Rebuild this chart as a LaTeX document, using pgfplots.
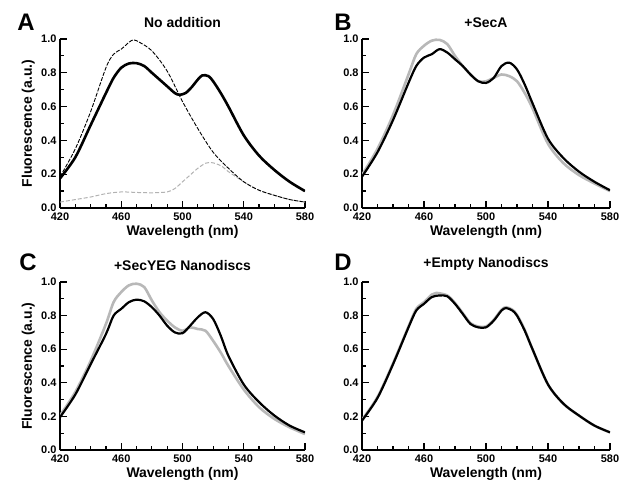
\documentclass[border=0pt]{standalone}
\usepackage{fontspec}
\setmainfont{Liberation Sans}
\usepackage{pgfplots}
\pgfplotsset{compat=1.18}

\newcommand{\fs}[1]{\fontsize{#1}{#1}\selectfont\bfseries}

\pgfplotsset{
  panel/.style={
    scale only axis, width=245bp, height=169bp,
    xmin=420, xmax=580, ymin=0, ymax=1,
    axis lines=left, axis line style={-, line width=1.6bp},
    tick align=inside,
    xtick={420,460,500,540,580}, minor x tick num=3,
    ytick={0,0.2,0.4,0.6,0.8,1}, minor y tick num=1,
    major tick length=7bp, minor tick length=4bp,
    tick style={black, line width=1.2bp},
    /pgf/number format/assume math mode=true,
    yticklabel style={/pgf/number format/.cd, fixed, fixed zerofill, precision=1},
    tick label style={font=\fs{11}},
    xticklabel style={yshift=-1bp},
    label style={font=\fs{14}},
    title style={font=\fs{14}, yshift=2bp},
    xlabel={Wavelength (nm)},
    xlabel style={at={(axis description cs:0.5,0)}, anchor=center, yshift=-23.5bp},
    ylabel style={at={(axis description cs:-0.13,0.5)}, anchor=center},
  },
  blk/.style={black, line width=2.2bp, smooth},
  gry/.style={black!28, line width=2.6bp, smooth},
}
\tikzset{letter/.style={font=\fs{24}, inner sep=0pt}}

\begin{document}
\begin{tikzpicture}
\useasboundingbox (0,0) rectangle (621bp,481bp);

% A
\begin{axis}[panel, at={(60bp,273bp)}, anchor=south west,
  title={No addition}, ylabel={Fluorescence (a.u.)}]
\addplot[black!30, line width=1bp, dash pattern=on 4bp off 2bp, smooth] coordinates {
(420,0.035) (430,0.05) (440,0.065) (450,0.085) (460,0.095) (470,0.092) (480,0.09)
(490,0.095) (495,0.115) (500,0.155) (505,0.195) (510,0.235) (515,0.265) (518,0.27)
(522,0.262) (526,0.245) (530,0.215) (540,0.155) (550,0.105) (560,0.075) (570,0.05) (580,0.035)};
\addplot[black, line width=0.9bp, dash pattern=on 4bp off 1.5bp, smooth] coordinates {
(420,0.185) (430,0.35) (440,0.57) (450,0.83) (455,0.91) (460,0.94) (465,0.98) (468,0.995)
(472,0.98) (480,0.93) (490,0.81) (500,0.63) (510,0.47) (520,0.33) (530,0.235) (540,0.155)
(550,0.105) (560,0.075) (570,0.05) (580,0.035)};
\addplot[blk, line width=2.6bp] coordinates {
(420,0.175) (430,0.30) (440,0.49) (450,0.68) (455,0.77) (460,0.83) (465,0.855) (470,0.857)
(475,0.84) (480,0.80) (485,0.76) (490,0.72) (495,0.68) (498,0.67) (502,0.68) (506,0.715)
(510,0.76) (513,0.785) (517,0.78) (520,0.75) (525,0.68) (530,0.60) (540,0.43) (550,0.31)
(560,0.225) (570,0.155) (580,0.10)};
\end{axis}

% B
\begin{axis}[panel, width=248bp, at={(362bp,273bp)}, anchor=south west,
  title={+SecA}]
\addplot[gry] coordinates {
(420,0.195) (430,0.35) (440,0.55) (450,0.79) (455,0.91) (460,0.96) (465,0.99) (470,0.995)
(475,0.97) (480,0.90) (485,0.84) (490,0.79) (495,0.75) (500,0.75) (505,0.77) (510,0.79)
(515,0.78) (520,0.75) (525,0.68) (530,0.59) (540,0.38) (550,0.265) (560,0.195) (570,0.145) (580,0.10)};
\addplot[blk] coordinates {
(420,0.185) (430,0.33) (440,0.52) (450,0.74) (455,0.84) (460,0.89) (465,0.91) (470,0.94)
(475,0.92) (480,0.88) (485,0.84) (490,0.79) (495,0.75) (500,0.74) (505,0.77) (510,0.84)
(515,0.86) (520,0.82) (525,0.73) (530,0.62) (540,0.41) (550,0.295) (560,0.215) (570,0.155) (580,0.105)};
\end{axis}

% C
\begin{axis}[panel, height=168bp, at={(60bp,31bp)}, anchor=south west,
  title={+SecYEG Nanodiscs}, ylabel={Fluorescence (a.u.)}]
\addplot[gry] coordinates {
(420,0.205) (430,0.345) (440,0.53) (450,0.75) (455,0.88) (460,0.94) (465,0.98) (470,0.99)
(475,0.97) (480,0.89) (485,0.82) (490,0.77) (495,0.73) (500,0.71) (505,0.73) (510,0.72)
(515,0.71) (520,0.65) (525,0.58) (530,0.50) (540,0.36) (550,0.255) (560,0.185) (570,0.135) (580,0.095)};
\addplot[blk] coordinates {
(420,0.195) (430,0.33) (440,0.51) (450,0.69) (455,0.80) (460,0.84) (465,0.88) (470,0.895)
(475,0.885) (480,0.85) (485,0.80) (490,0.74) (495,0.70) (500,0.695) (505,0.74) (510,0.79)
(515,0.82) (520,0.78) (525,0.68) (530,0.56) (540,0.39) (550,0.285) (560,0.205) (570,0.145) (580,0.105)};
\end{axis}

% D
\begin{axis}[panel, width=248bp, height=168bp, at={(362bp,31bp)}, anchor=south west,
  title={+Empty Nanodiscs}]
\addplot[gry] coordinates {
(420,0.18) (430,0.315) (440,0.515) (450,0.735) (455,0.84) (460,0.88) (465,0.925) (468,0.935)
(475,0.92) (480,0.875) (485,0.815) (490,0.755) (495,0.735) (500,0.735) (505,0.775) (510,0.835)
(513,0.85) (517,0.835) (520,0.805) (525,0.715) (530,0.60) (540,0.39) (550,0.275) (560,0.205) (570,0.145) (580,0.105)};
\addplot[blk] coordinates {
(420,0.175) (430,0.31) (440,0.51) (450,0.73) (455,0.83) (460,0.87) (465,0.91) (470,0.92)
(475,0.915) (480,0.87) (485,0.81) (490,0.75) (495,0.73) (500,0.73) (505,0.77) (510,0.83)
(513,0.845) (517,0.83) (520,0.80) (525,0.71) (530,0.60) (540,0.39) (550,0.275) (560,0.205) (570,0.145) (580,0.105)};
\end{axis}

\node[letter] at (26bp,459bp) {A};
\node[letter] at (343bp,459bp) {B};
\node[letter] at (28bp,219bp) {C};
\node[letter] at (343bp,219bp) {D};
\end{tikzpicture}
\end{document}
